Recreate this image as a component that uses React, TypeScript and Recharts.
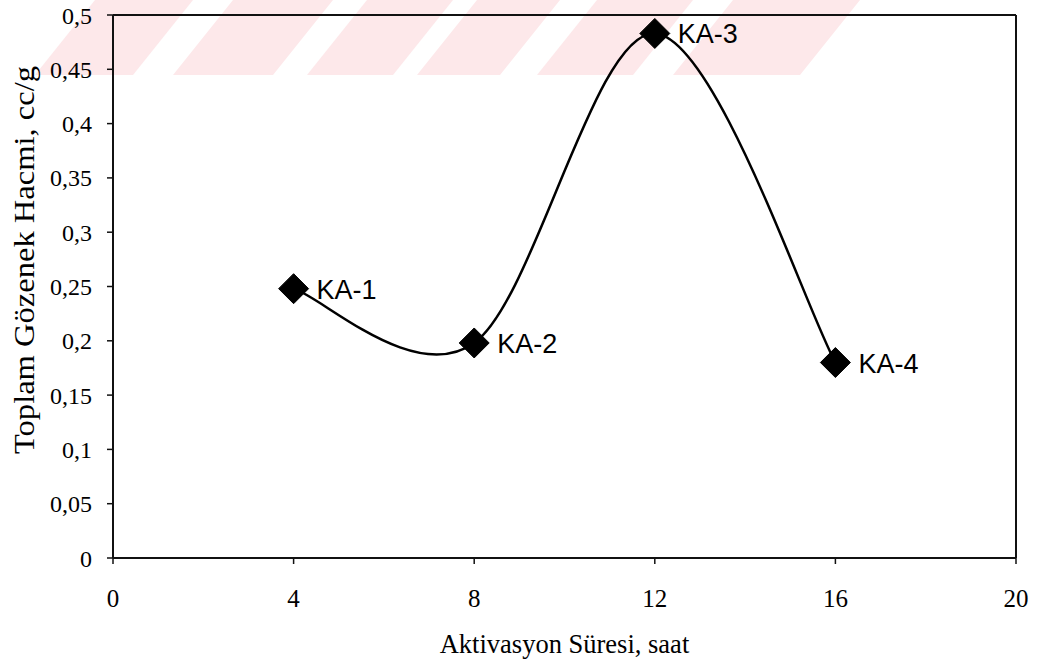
import { LineChart, Line, XAxis, YAxis, ReferenceLine, LabelList } from "recharts";

const hours = [4, 8, 12, 16];
const poreVolume = [0.248, 0.198, 0.483, 0.18];
const samples = ["KA-1", "KA-2", "KA-3", "KA-4"];
const xTicks = [0, 4, 8, 12, 16, 20];
const yTicks = [0, 0.05, 0.1, 0.15, 0.2, 0.25, 0.3, 0.35, 0.4, 0.45, 0.5];

// faint diagonal watermark stripes at the top of the scan (top-edge x ranges)
const stripes = [[95, 193], [233, 333], [367, 453], [477, 560], [597, 693], [733, 860]];

const data = hours.map((h, i) => ({ h, v: poreVolume[i], name: samples[i] }));

const SERIF = '"Liberation Serif", "Times New Roman", serif';
const SANS = '"Liberation Sans", Arial, sans-serif';

// Excel-style smoothed line: cubic bezier with 1/6 chord tangents
function excelCurve(ctx: any) {
  let pts: number[][] = [];
  return {
    areaStart() {},
    areaEnd() {},
    lineStart() {
      pts = [];
    },
    point(x: number, y: number) {
      pts.push([+x, +y]);
    },
    lineEnd() {
      const n = pts.length;
      if (!n) return;
      ctx.moveTo(pts[0][0], pts[0][1]);
      for (let i = 0; i < n - 1; i++) {
        const p0 = pts[Math.max(i - 1, 0)];
        const p1 = pts[i];
        const p2 = pts[i + 1];
        const p3 = pts[Math.min(i + 2, n - 1)];
        ctx.bezierCurveTo(
          p1[0] + (p2[0] - p0[0]) / 6,
          p1[1] + (p2[1] - p0[1]) / 6,
          p2[0] - (p3[0] - p1[0]) / 6,
          p2[1] - (p3[1] - p1[1]) / 6,
          p2[0],
          p2[1]
        );
      }
    },
  };
}

const Diamond = (props: any) => {
  const { cx, cy, index } = props;
  const r = 15;
  return (
    <polygon
      key={`d-${index}`}
      points={`${cx},${cy - r} ${cx + r},${cy} ${cx},${cy + r} ${cx - r},${cy}`}
      fill="#000"
      stroke="#000"
    />
  );
};

const PointLabel = (props: any) => {
  const { x, y, value } = props;
  return (
    <text x={x + 23} y={y + 10} fontFamily={SANS} fontSize={27} fill="#000">
      {value}
    </text>
  );
};

const YTitle = () => (
  <text
    transform="translate(23,260) rotate(-90)"
    textAnchor="middle"
    dominantBaseline="central"
    fontFamily={SERIF}
    fontSize={30}
    textLength={388}
    lengthAdjust="spacingAndGlyphs"
    fill="#000"
  >
    Toplam Gözenek Hacmi, cc/g
  </text>
);

export default function App() {
  return (
    <div style={{ position: "fixed", left: 0, top: 0, width: 1040, height: 666, background: "#fff" }}>
      <svg width={1040} height={666} style={{ position: "absolute", left: 0, top: 0 }}>
        {stripes.map(([a, b], i) => (
          <polygon key={i} points={`${a},0 ${b},0 ${b - 60},75 ${a - 60},75`} fill="#fde8ea" />
        ))}
      </svg>
      <div style={{ position: "absolute", left: 0, top: 0 }}>
        <LineChart width={1040} height={666} data={data} margin={{ top: 15, right: 24, left: 0, bottom: 0 }}>
          <XAxis
            dataKey="h"
            type="number"
            domain={[0, 20]}
            ticks={xTicks}
            height={108}
            tickSize={6}
            tickMargin={25}
            axisLine={{ stroke: "#111", strokeWidth: 2 }}
            tickLine={{ stroke: "#111", strokeWidth: 1.5 }}
            tick={{ fill: "#000", fontFamily: SERIF, fontSize: 25 }}
            label={{
              value: "Aktivasyon Süresi, saat",
              position: "insideBottom",
              offset: 13,
              fill: "#000",
              fontFamily: SERIF,
              fontSize: 26.5,
            }}
          />
          <YAxis
            type="number"
            domain={[0, 0.5]}
            ticks={yTicks}
            width={113}
            tickSize={6}
            tickMargin={15}
            tickFormatter={(v: number) => String(v).replace(".", ",")}
            axisLine={{ stroke: "#111", strokeWidth: 2 }}
            tickLine={{ stroke: "#111", strokeWidth: 1.5 }}
            tick={{ fill: "#000", fontFamily: SERIF, fontSize: 24 }}
            label={{ content: YTitle }}
          />
          <ReferenceLine y={0.5} stroke="#111" strokeWidth={2} />
          <ReferenceLine x={20} stroke="#111" strokeWidth={2} />
          <Line
            dataKey="v"
            type={excelCurve as any}
            stroke="#000"
            strokeWidth={2.5}
            dot={Diamond}
            activeDot={false}
            isAnimationActive={false}
          >
            <LabelList dataKey="name" content={PointLabel} />
          </Line>
        </LineChart>
      </div>
    </div>
  );
}
